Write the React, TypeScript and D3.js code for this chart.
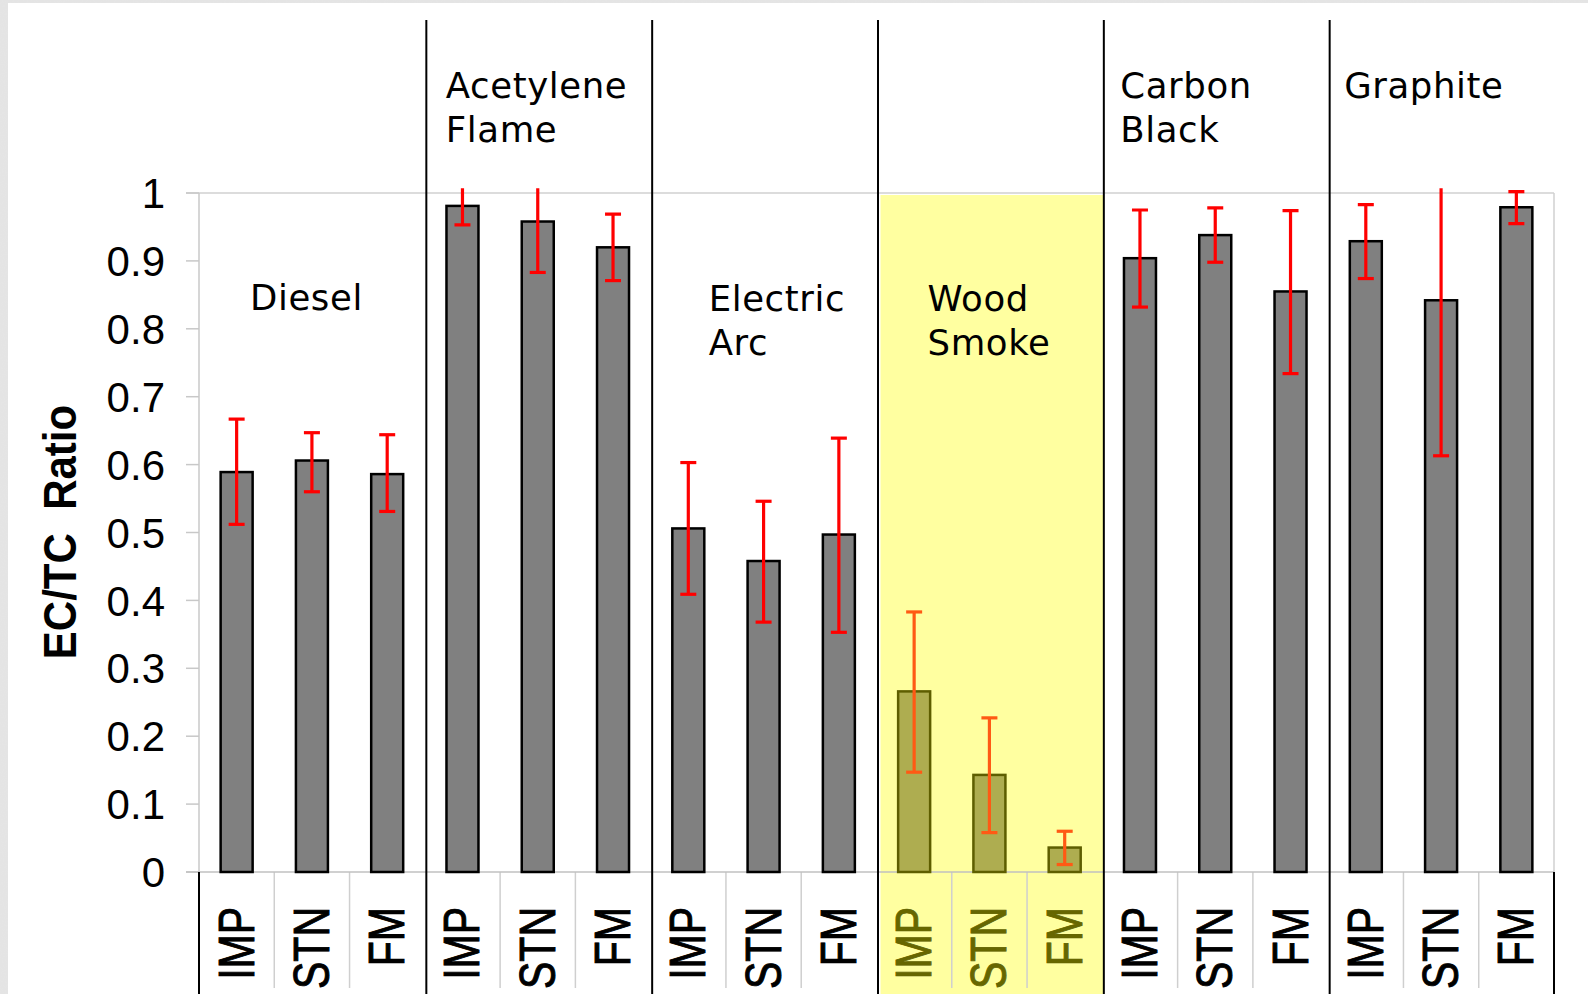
import React from 'react'
import * as d3 from 'd3'

const groups = ['Diesel', 'Acetylene Flame', 'Electric Arc', 'Wood Smoke', 'Carbon Black', 'Graphite']
const samplers = ['IMP', 'STN', 'FM']
const highlighted = 'Wood Smoke'

// EC/TC ratio per group, in sampler order IMP, STN, FM
const ratios = [
  [0.589, 0.606, 0.586],
  [0.981, 0.958, 0.92],
  [0.506, 0.458, 0.497],
  [0.266, 0.143, 0.036],
  [0.904, 0.938, 0.855],
  [0.929, 0.842, 0.979]
]
const errLow = [
  [0.512, 0.56, 0.531],
  [0.953, 0.883, 0.871],
  [0.409, 0.368, 0.353],
  [0.147, 0.058, 0.011],
  [0.832, 0.898, 0.734],
  [0.874, 0.613, 0.955]
]
const errHigh = [
  [0.667, 0.647, 0.644],
  [1.05, 1.05, 0.969],
  [0.603, 0.546, 0.639],
  [0.383, 0.227, 0.06],
  [0.975, 0.978, 0.974],
  [0.983, 1.05, 1.002]
]
const yTicks = [0, 0.1, 0.2, 0.3, 0.4, 0.5, 0.6, 0.7, 0.8, 0.9, 1]

const W = 1588
const H = 994
const left = 199
const right = 1554
const top = 193
const bottom = 872
const clipMax = 1.007

const App: React.FC = () => {
  const y = d3.scaleLinear().domain([0, 1]).range([bottom, top])
  const gx = d3.scaleBand<string>().domain(groups).range([left, right])
  const keys = groups.flatMap((g) => samplers.map((s) => `${g}|${s}`))
  const x = d3.scaleBand<string>().domain(keys).range([left, right]).paddingInner(0.575).paddingOuter(0.2875)
  const slot = d3.scaleBand<string>().domain(keys).range([left, right])

  const rows = groups.flatMap((g, gi) =>
    samplers.map((s, si) => ({
      group: g,
      sampler: s,
      key: `${g}|${s}`,
      v: ratios[gi][si],
      lo: errLow[gi][si],
      hi: errHigh[gi][si]
    }))
  )

  const labelLines: Record<string, string[]> = {
    Diesel: ['Diesel'],
    'Acetylene Flame': ['Acetylene', 'Flame'],
    'Electric Arc': ['Electric', 'Arc'],
    'Wood Smoke': ['Wood', 'Smoke'],
    'Carbon Black': ['Carbon', 'Black'],
    Graphite: ['Graphite']
  }
  // label anchor: offset from group start, first baseline
  const labelPos: Record<string, [number, number]> = {
    Diesel: [51, 310],
    'Acetylene Flame': [21, 98],
    'Electric Arc': [58, 311],
    'Wood Smoke': [51, 311],
    'Carbon Black': [18, 98],
    Graphite: [16, 98]
  }

  const hx = gx(highlighted)!
  const bw = gx.bandwidth()

  return (
    <svg width={W} height={H} style={{ display: 'block', position: 'absolute', left: 0, top: 0 }}>
      <defs>
        <filter id="noise" x="0" y="0" width="100%" height="100%">
          <feTurbulence type="fractalNoise" baseFrequency="0.9" numOctaves="2" seed="3" />
          <feColorMatrix type="matrix" values="0 0 0 0 0.78  0 0 0 0 0.78  0 0 0 0 0.78  0 0 0 -1.2 1.4" />
        </filter>
        <clipPath id="errclip">
          <rect x={0} y={y(clipMax)} width={W} height={H} />
        </clipPath>
      </defs>
      <rect x={0} y={0} width={W} height={H} fill="#e4e4e4" />
      <rect x={0} y={0} width={W} height={H} filter="url(#noise)" />
      <rect x={8} y={3} width={W - 8} height={H - 3} fill="#ffffff" />

      {/* highlighted group */}
      <rect x={hx + 4} y={top + 2} width={bw - 3} height={H - top} fill="#ffffa0" />

      {/* plot frame */}
      <line x1={left - 13} x2={right} y1={top} y2={top} stroke="#d0d0d0" strokeWidth={1.5} />
      <line x1={right} x2={right} y1={top} y2={bottom} stroke="#d0d0d0" strokeWidth={1.5} />
      <line x1={left} x2={left} y1={top} y2={bottom} stroke="#c8c8c8" strokeWidth={1.5} />
      {yTicks.map((t) => (
        <g key={t}>
          <line x1={left - 13} x2={left} y1={y(t)} y2={y(t)} stroke="#c8c8c8" strokeWidth={1.5} />
          <text
            x={165}
            y={y(t)}
            dy="0.36em"
            textAnchor="end"
            fontFamily="'Liberation Sans', Arial, sans-serif"
            fontSize={42}
            fill="#000"
          >
            {t === 0 || t === 1 ? String(t) : t.toFixed(1)}
          </text>
        </g>
      ))}

      {/* category dividers */}
      {keys.map((k, i) =>
        i % 3 === 0 ? null : (
          <line key={k} x1={slot(k)!} x2={slot(k)!} y1={bottom} y2={988} stroke="#cfcfcf" strokeWidth={1.5} />
        )
      )}
      <line x1={left - 13} x2={right} y1={bottom} y2={bottom} stroke="#c0c0c0" strokeWidth={1.5} />
      <line x1={left} x2={left} y1={bottom} y2={H} stroke="#000" strokeWidth={2} />
      <line x1={right} x2={right} y1={bottom} y2={H} stroke="#000" strokeWidth={2} />

      {/* group separators */}
      {groups.slice(1).map((g) => (
        <line key={g} x1={gx(g)! + 1.5} x2={gx(g)! + 1.5} y1={20} y2={H} stroke="#000" strokeWidth={2} />
      ))}

      {/* bars */}
      {rows.map((r) => {
        const hl = r.group === highlighted
        return (
          <rect
            key={r.key}
            x={x(r.key)!}
            y={y(r.v)}
            width={x.bandwidth()}
            height={y(0) - y(r.v)}
            fill={hl ? '#aead50' : '#808080'}
            stroke={hl ? '#5e5e00' : '#000'}
            strokeWidth={2.5}
          />
        )
      })}

      {/* error bars */}
      <g clipPath="url(#errclip)">
        {rows.map((r) => {
          const cx = x(r.key)! + x.bandwidth() / 2
          const col = r.group === highlighted ? '#ff5a14' : '#ff0000'
          return (
            <g key={r.key} stroke={col} strokeWidth={3.2}>
              <line x1={cx} x2={cx} y1={y(r.lo)} y2={y(r.hi)} />
              <line x1={cx - 8} x2={cx + 8} y1={y(r.lo)} y2={y(r.lo)} />
              {r.hi <= clipMax && <line x1={cx - 8} x2={cx + 8} y1={y(r.hi)} y2={y(r.hi)} />}
            </g>
          )
        })}
      </g>

      {/* sampler labels */}
      {rows.map((r) => {
        const cx = slot(r.key)! + slot.bandwidth() / 2
        return (
          <text
            key={r.key}
            transform={`translate(${cx + 17},907) rotate(-90) scale(1,1.2)`}
            textAnchor="end"
            fontFamily="'Liberation Sans', Arial, sans-serif"
            fontSize={41}
            fill={r.group === highlighted ? '#666600' : '#000'}
            stroke={r.group === highlighted ? '#666600' : '#000'}
            strokeWidth={0.8}
          >
            {r.sampler}
          </text>
        )
      })}

      {/* group labels */}
      {groups.map((g) => (
        <text
          key={g}
          fontFamily="'DejaVu Sans', Verdana, sans-serif"
          fontSize={35.5}
          letterSpacing={0.6}
          fill="#000"
        >
          {labelLines[g].map((line, i) => (
            <tspan key={line} x={gx(g)! + labelPos[g][0]} y={labelPos[g][1] + i * 44}>
              {line}
            </tspan>
          ))}
        </text>
      ))}

      {/* y axis title */}
      <text
        transform={`translate(76,532) rotate(-90) scale(1,1.08)`}
        textAnchor="middle"
        fontFamily="'Liberation Sans', Arial, sans-serif"
        fontWeight="bold"
        fontSize={42}
        style={{ whiteSpace: 'pre' }}
        fill="#000"
      >
        {'EC/TC  Ratio'}
      </text>
    </svg>
  )
}

export default App
